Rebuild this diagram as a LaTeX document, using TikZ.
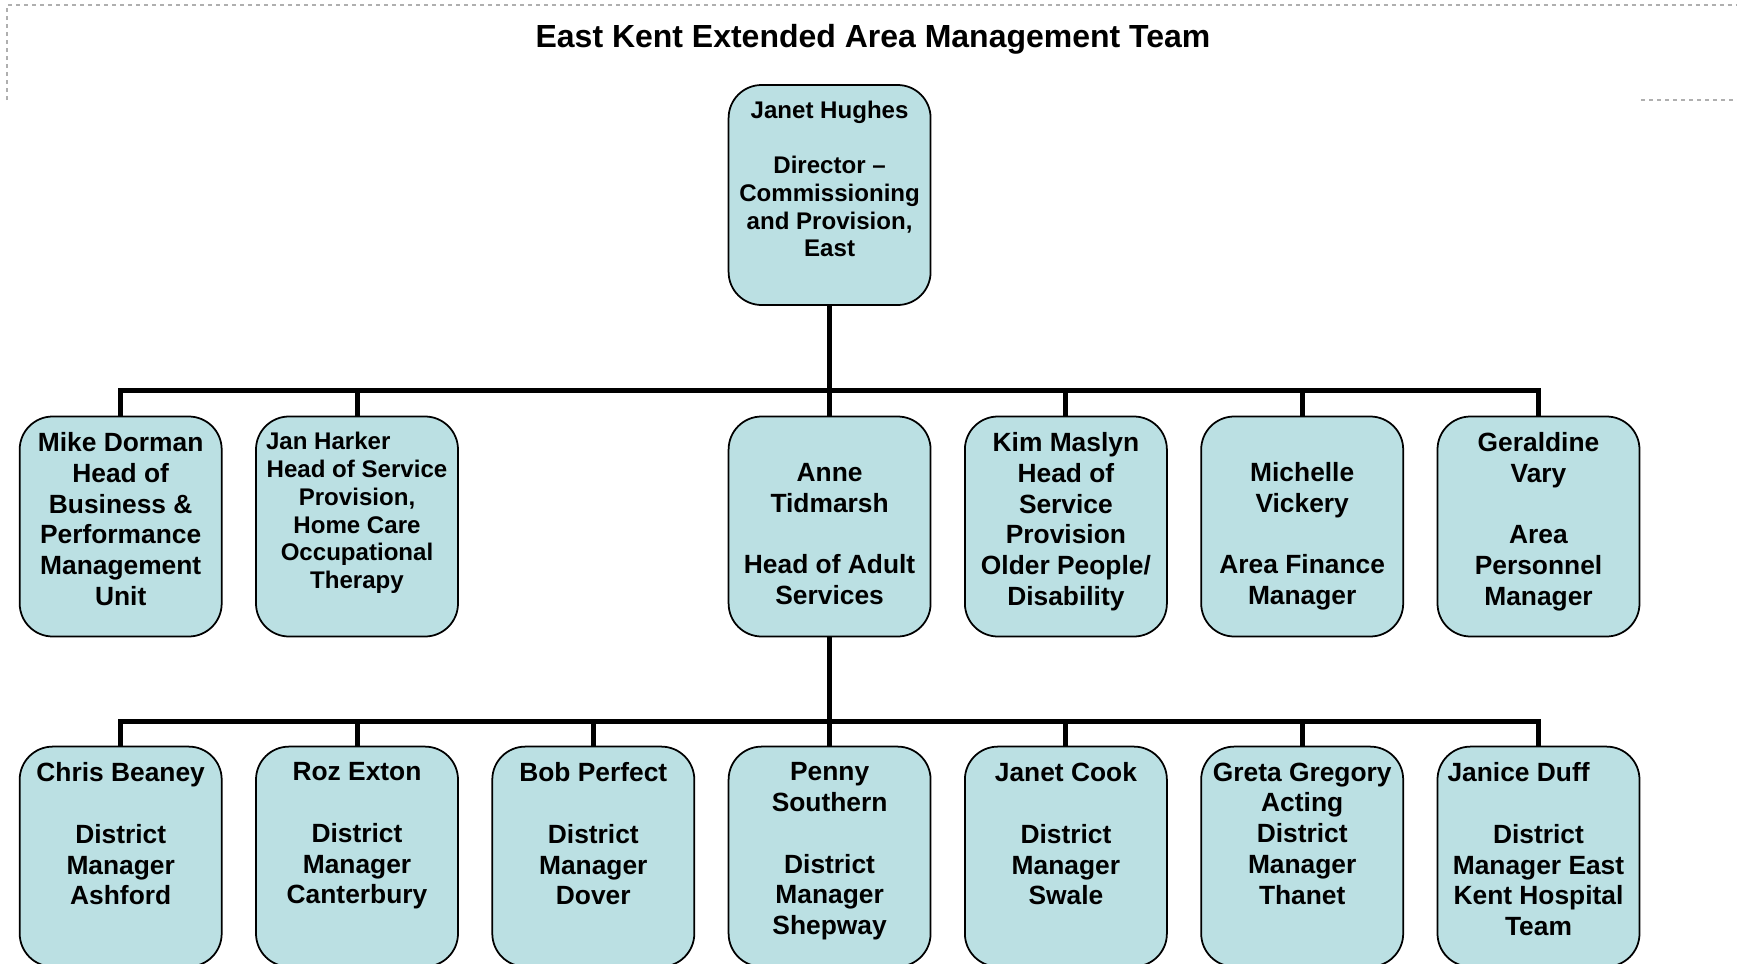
\documentclass[tikz,border=0pt]{standalone}
\usepackage{fontspec}
\setmainfont{Liberation Sans}
\usepackage{tikz}
\usetikzlibrary{calc}
\definecolor{boxteal}{RGB}{187,224,227}
\definecolor{framegray}{RGB}{175,175,175}
% text of one box, set from the top down
\newcommand{\bigtext}[1]{\parbox[c][1.88cm][t]{1.82cm}{\centering\bfseries\fontsize{7.5}{8.76}\selectfont #1}}
\newcommand{\smalltext}[1]{\parbox[c][1.88cm][t]{1.82cm}{\centering\bfseries\fontsize{6.85}{7.88}\selectfont #1}}

\begin{document}
\begin{tikzpicture}[
    person/.style={draw=black,line width=0.5pt,fill=boxteal,rounded corners=0.33cm,
      inner xsep=0.1cm,inner ysep=0.16cm,outer sep=0pt},
    link/.style={line width=0.05cm}]
  \useasboundingbox (0,0) rectangle (17.37,9.63);
  % dashed frame of the page
  \draw[framegray,line width=0.3pt,dash pattern=on 0.04cm off 0.04cm] (0.07,8.63) -- (0.07,9.58) -- (17.37,9.58);
  \draw[framegray,line width=0.3pt,dash pattern=on 0.04cm off 0.04cm] (16.41,8.63) -- (17.37,8.63);
  \node[font=\bfseries\fontsize{9.1}{11}\selectfont] (title) at (8.73,9.24) {East Kent Extended Area Management Team};

  % director
  \node[person] (hughes) at (8.296,7.68) {\smalltext{Janet Hughes\\[\baselineskip]Director --\\Commissioning\\and Provision,\\East}};

  % heads
  \node[person] (dorman) at (1.207,4.365) {\bigtext{Mike Dorman\\Head of\\Business \&\\Performance\\Management\\Unit}};
  \node[person] (harker) at (3.570,4.365) {\smalltext{\makebox[\linewidth][l]{Jan Harker}\\Head of Service\\Provision,\\Home Care\\Occupational\\Therapy}};
  \node[person] (tidmarsh) at (8.296,4.365) {\bigtext{\vphantom{Anne}\\Anne\\Tidmarsh\\[\baselineskip]Head of Adult\\Services}};
  \node[person] (maslyn) at (10.659,4.365) {\bigtext{Kim Maslyn\\Head of\\Service\\Provision\\Older People/\\Disability}};
  \node[person] (vickery) at (13.022,4.365) {\bigtext{\vphantom{Anne}\\Michelle\\Vickery\\[\baselineskip]Area Finance\\Manager}};
  \node[person] (vary) at (15.385,4.365) {\bigtext{Geraldine\\Vary\\[\baselineskip]Area\\Personnel\\Manager}};

  % district managers
  \node[person] (beaney) at (1.207,1.064) {\bigtext{Chris Beaney\\[\baselineskip]District\\Manager\\Ashford}};
  \node[person] (exton) at (3.570,1.064) {\bigtext{Roz Exton\\[\baselineskip]District\\Manager\\Canterbury}};
  \node[person] (perfect) at (5.933,1.064) {\bigtext{Bob Perfect\\[\baselineskip]District\\Manager\\Dover}};
  \node[person] (southern) at (8.296,1.064) {\bigtext{Penny\\Southern\\[\baselineskip]District\\Manager\\Shepway}};
  \node[person] (cook) at (10.659,1.064) {\bigtext{Janet Cook\\[\baselineskip]District\\Manager\\Swale}};
  \node[person] (gregory) at (13.022,1.064) {\bigtext{Greta Gregory\\Acting\\District\\Manager\\Thanet}};
  \node[person] (duff) at (15.385,1.064) {\bigtext{\makebox[\linewidth][l]{Janice Duff}\\[\baselineskip]District\\Manager East\\Kent Hospital\\Team}};

  % reporting lines
  \foreach \n in {dorman,harker,tidmarsh,maslyn,vickery,vary}
    \draw[link] (hughes.south) |- ($(\n.north)+(0,0.265)$) -- (\n.north);
  \foreach \n in {beaney,exton,perfect,southern,cook,gregory,duff}
    \draw[link] (tidmarsh.south) |- ($(\n.north)+(0,0.256)$) -- (\n.north);
\end{tikzpicture}
\end{document}
